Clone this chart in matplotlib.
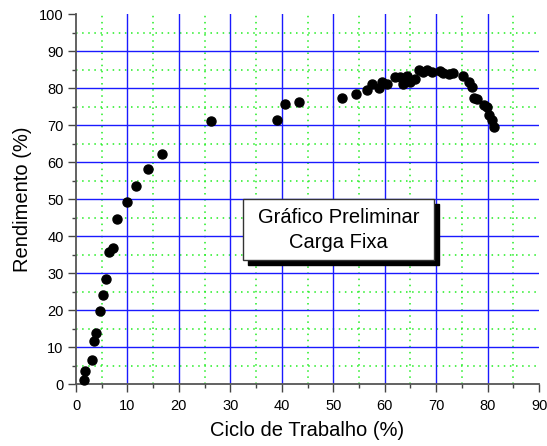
import matplotlib
matplotlib.use("Agg")
import matplotlib.pyplot as plt
from matplotlib.patches import Rectangle
from matplotlib.ticker import MultipleLocator

plt.rcParams['font.family'] = ['Liberation Sans', 'DejaVu Sans']

# duty cycle (%) and efficiency (%)
ciclo = [1.5, 1.8, 3.1, 3.4, 3.9, 4.6, 5.2, 5.8, 6.5, 7.1, 8.0, 9.9, 11.6, 14.0, 16.8,
         26.3, 39.0, 40.7, 43.4, 51.7, 54.4, 56.6, 57.6, 58.8, 59.4, 60.4,
         62.0, 63.0, 63.6, 63.8, 64.3, 64.9, 65.9, 66.6, 67.4, 68.3, 69.2,
         70.8, 71.4, 72.4, 73.2, 75.3, 76.3, 76.9, 77.4, 78.0, 79.2, 79.8,
         80.3, 80.8, 81.2]
rendimento = [1.1, 3.4, 6.6, 11.6, 13.7, 19.7, 24.0, 28.3, 35.8, 36.7, 44.7, 49.1, 53.5, 58.0, 62.3,
              71.2, 71.4, 75.7, 76.3, 77.2, 78.4, 79.5, 81.1, 80.1, 81.7, 81.1,
              83.1, 83.1, 81.0, 82.2, 83.2, 81.7, 82.4, 84.9, 84.4, 85.0, 84.4,
              84.5, 84.0, 83.8, 84.0, 83.2, 81.7, 80.4, 77.4, 77.0, 75.4, 74.8,
              72.7, 71.4, 69.4]

xmax, ymax = 90, 100

fig = plt.figure(figsize=(5.47, 4.46), dpi=100)
ax = fig.add_axes([0.139, 0.139, 0.8465, 0.8295])

ax.set_xlim(0, xmax)
ax.set_ylim(0, ymax)
ax.xaxis.set_major_locator(MultipleLocator(10))
ax.xaxis.set_minor_locator(MultipleLocator(5))
ax.yaxis.set_major_locator(MultipleLocator(10))
ax.yaxis.set_minor_locator(MultipleLocator(5))

# dotted green minor grid, solid blue major grid (none on the limits)
ax.grid(which='minor', color='#22ee22', linestyle=(0, (1, 3)), linewidth=1.1)
for v in range(10, xmax, 10):
    ax.axvline(v, color='#1a1aff', linewidth=1.0, zorder=1)
for v in range(10, ymax, 10):
    ax.axhline(v, color='#1a1aff', linewidth=1.0, zorder=1)
ax.set_axisbelow(True)

ax.plot(ciclo, rendimento, 'o', color='black', markersize=6.5, clip_on=False, zorder=5)

for side in ('top', 'right'):
    ax.spines[side].set_visible(False)
for side in ('left', 'bottom'):
    ax.spines[side].set_color('#555555')
    ax.spines[side].set_linewidth(1.3)

ax.tick_params(which='major', direction='out', length=5.5, width=1.0, color='#444444',
               labelsize=10.5)
ax.tick_params(which='minor', direction='out', length=3, width=1.0, color='#444444')
ax.tick_params(axis='x', which='major', pad=5)
ax.tick_params(axis='y', which='major', pad=3.5)

ax.set_xlabel('Ciclo de Trabalho (%)', fontsize=14.5, labelpad=6)
ax.set_ylabel('Rendimento (%)', fontsize=14.5, labelpad=5)

# text box with a drop shadow
bx, by, bw, bh = 0.36, 0.335, 0.413, 0.165
dx, dy = 5 / 466, -5 / 370
ax.add_patch(Rectangle((bx + dx, by + dy), bw, bh, transform=ax.transAxes,
                       facecolor='black', edgecolor='black', zorder=6))
ax.add_patch(Rectangle((bx, by), bw, bh, transform=ax.transAxes,
                       facecolor='white', edgecolor='#333333', linewidth=1.0, zorder=7))
ax.text(bx + bw / 2, by + bh * 0.70, 'Gráfico Preliminar', transform=ax.transAxes,
        ha='center', va='center', fontsize=14.5, zorder=8)
ax.text(bx + bw / 2, by + bh * 0.28, 'Carga Fixa', transform=ax.transAxes,
        ha='center', va='center', fontsize=14.5, zorder=8)

fig.savefig('out.png', dpi=100)
